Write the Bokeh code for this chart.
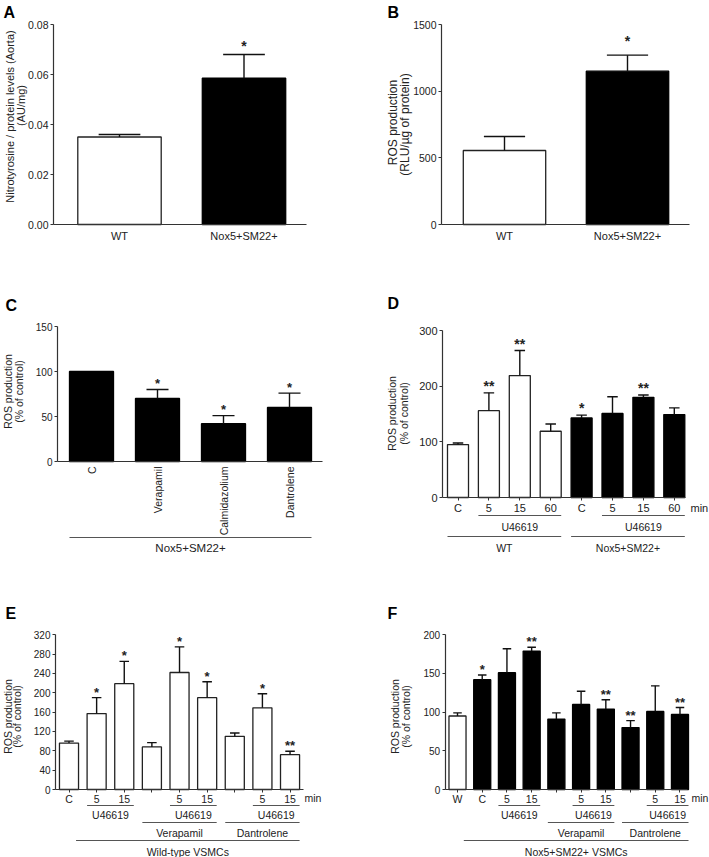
import math
from bokeh.plotting import figure
from bokeh.layouts import column, row
from bokeh.models import Range1d, FixedTicker, LinearAxis, NumeralTickFormatter
from bokeh.core.properties import value
from bokeh.embed import file_html
from bokeh.resources import INLINE

FONT = "Liberation Sans"
INK = "#222222"

# ---------------- data ----------------
a_labels = ["WT", "Nox5+SM22+"]
a_mean = [0.035, 0.0585]
a_err = [0.001, 0.0095]
a_black = [False, True]
a_sig = ["", "*"]
a_yticks = [0.0, 0.02, 0.04, 0.06, 0.08]

b_labels = ["WT", "Nox5+SM22+"]
b_mean = [555, 1150]
b_err = [105, 120]
b_black = [False, True]
b_sig = ["", "*"]
b_yticks = [0, 500, 1000, 1500]

c_labels = ["C", "Verapamil", "Calmidazolium", "Dantrolene"]
c_mean = [100, 70, 42, 60]
c_err = [0, 10, 9, 16]
c_black = [True, True, True, True]
c_sig = ["", "*", "*", "*"]
c_yticks = [0, 50, 100, 150]

d_labels = ["C", "5", "15", "60", "C", "5", "15", "60"]
d_mean = [95, 156, 219, 119, 143, 151, 180, 149]
d_err = [3, 32, 45, 13, 5, 30, 4, 12]
d_black = [False, False, False, False, True, True, True, True]
d_sig = ["", "**", "**", "", "*", "", "**", ""]
d_yticks = [0, 100, 200, 300]

e_labels = ["C", "5", "15", "", "5", "15", "", "5", "15"]
e_mean = [96, 157, 219, 88, 242, 190, 110, 169, 72]
e_err = [4, 33, 46, 9, 53, 33, 7, 29, 7]
e_black = [False, False, False, False, False, False, False, False, False]
e_sig = ["", "*", "*", "", "*", "*", "", "*", "**"]
e_yticks = [0, 40, 80, 120, 160, 200, 240, 280, 320]

f_labels = ["W", "C", "5", "15", "", "5", "15", "", "5", "15"]
f_mean = [95, 142, 151, 179, 91, 110, 104, 80, 101, 97]
f_err = [4, 6, 31, 5, 8, 17, 12, 9, 33, 9]
f_black = [False, True, True, True, True, True, True, True, True, True]
f_sig = ["", "*", "", "**", "", "", "**", "**", "", "**"]
f_yticks = [0, 50, 100, 150, 200]

# group brackets: (first bar, last bar, label, level)
c_brackets = [(0, 3, "Nox5+SM22+", 0)]
d_brackets = [(1, 3, "U46619", 0), (5, 7, "U46619", 0), (0, 3, "WT", 1), (4, 7, "Nox5+SM22+", 1)]
e_brackets = [(1, 2, "U46619", 0), (4, 5, "U46619", 0), (7, 8, "U46619", 0),
              (3, 5, "Verapamil", 1), (6, 8, "Dantrolene", 1), (0.6, 8, "Wild-type VSMCs", 2)]
f_brackets = [(2, 3, "U46619", 0), (5, 6, "U46619", 0), (8, 9, "U46619", 0),
              (4, 6, "Verapamil", 1), (7, 9, "Dantrolene", 1), (0.6, 9, "Nox5+SM22+ VSMCs", 2)]


def panel(o):
    W, H, c0, s, ax, y0, ppu = o["W"], o["H"], o["c0"], o["s"], o["ax"], o["y0"], o["ppu"]
    X = lambda fx: (fx - c0) / s
    Y = lambda fy: (y0 - fy) / ppu
    n = len(o["mean"])
    idx = list(range(n))
    p = figure(width=W, height=H, x_range=Range1d(X(0), X(W)), y_range=Range1d(Y(H), Y(0)),
               x_axis_location=None, y_axis_location=None, toolbar_location=None, tools="",
               output_backend="svg", min_border=0)
    p.outline_line_color = None
    p.background_fill_color = "white"
    p.border_fill_color = "white"
    p.grid.visible = False

    # y axis
    yax = LinearAxis(fixed_location=X(ax), bounds=(0, o["ymax"]), ticker=FixedTicker(ticks=o["yticks"]))
    if o.get("yfmt"):
        yax.formatter = NumeralTickFormatter(format=o["yfmt"])
    yax.major_tick_out = 3
    yax.major_tick_in = 0
    yax.minor_tick_out = 0
    yax.minor_tick_in = 0
    yax.major_label_standoff = 2
    yax.axis_line_color = "#333333"
    yax.major_tick_line_color = "#333333"
    yax.axis_line_width = 1.2
    yax.major_label_text_font = FONT
    yax.major_label_text_font_size = o["tick_size"]
    yax.major_label_text_color = INK
    p.add_layout(yax, "left")

    # x axis at value 0
    xax = LinearAxis(fixed_location=0, bounds=(X(ax), X(o["xend"])), ticker=FixedTicker(ticks=idx))
    xax.major_label_overrides = {i: lab for i, lab in enumerate(o["labels"])}
    xax.major_tick_out = o["xtick_out"]
    xax.major_tick_in = 0
    xax.minor_tick_out = 0
    xax.minor_tick_in = 0
    xax.major_label_standoff = o["xstand"]
    xax.axis_line_color = "#333333"
    xax.major_tick_line_color = "#333333"
    xax.axis_line_width = 1.2
    xax.major_label_text_font = FONT
    xax.major_label_text_font_size = o["xlab_size"]
    xax.major_label_text_color = INK
    if o.get("rot"):
        xax.major_label_orientation = math.pi / 2
    p.add_layout(xax, "below")

    bw = o["bw"]
    fills = ["black" if b else "white" for b in o["black"]]
    lines = ["black" if b else "#222222" for b in o["black"]]
    p.vbar(x=idx, top=o["mean"], width=bw, bottom=0, fill_color=fills, line_color=lines, line_width=1.3)

    # error bars (upper only)
    ex = [i for i in idx if o["err"][i] > 0]
    etop = [o["mean"][i] + o["err"][i] for i in ex]
    ebot = [o["mean"][i] for i in ex]
    cw = bw * 0.5
    p.segment(x0=ex, y0=ebot, x1=ex, y1=etop, line_color="#111111", line_width=1.4)
    p.segment(x0=[x - cw / 2 for x in ex], y0=etop, x1=[x + cw / 2 for x in ex], y1=etop,
              line_color="#111111", line_width=1.4)

    # significance marks
    sx = [i for i in idx if o["sig"][i]]
    sy = [o["mean"][i] + o["err"][i] + o["star_off"] / ppu for i in sx]
    p.text(x=sx, y=sy, text=[o["sig"][i] for i in sx], text_align="center", text_baseline="alphabetic",
           text_font=value(FONT), text_font_size=o["star_size"], text_font_style="bold", text_color=INK)

    # panel letter
    lx, ly = o["letter_pos"]
    p.text(x=[X(lx)], y=[Y(ly)], text=[o["letter"]], text_align="left", text_baseline="alphabetic",
           text_font=value(FONT), text_font_style="bold", text_font_size="16px", text_color="black")

    # y axis title (rotated lines)
    for (txt, fx, fy) in o["ylab"]:
        p.text(x=[X(fx)], y=[Y(fy)], text=[txt], angle=math.pi / 2, text_align="center",
               text_baseline="middle", text_font=value(FONT), text_font_size=o["ylab_size"],
               text_color=INK)

    # "min" unit
    if o.get("min_pos"):
        mx, my = o["min_pos"]
        p.text(x=[X(mx)], y=[Y(y0 + my)], text=["min"], text_align="left", text_baseline="middle",
               text_font=value(FONT), text_font_size=o["xlab_size"], text_color=INK)

    # group brackets
    hw = bw / 2
    for (i0, i1, lab, lev) in o.get("brackets", []):
        ly_line, ly_text = o["levels"][lev]
        yl = Y(y0 + ly_line)
        p.segment(x0=[i0 - hw], y0=[yl], x1=[i1 + hw], y1=[yl], line_color="#555555", line_width=1.1)
        p.text(x=[(i0 + i1) / 2], y=[Y(y0 + ly_text)], text=[lab], text_align="center",
               text_baseline="middle", text_font=value(FONT), text_font_size=o["br_size"],
               text_color=INK)
    return p


pA = panel(dict(W=354, H=280, c0=119, s=124.5, ax=53, y0=224, ppu=200 / 0.08, xend=306,
                ymax=0.08, yticks=a_yticks, yfmt="0.00", labels=a_labels, mean=a_mean, err=a_err,
                black=a_black, sig=a_sig, bw=0.67, tick_size="10.5px", xlab_size="11px",
                xtick_out=0, xstand=5, star_off=9, star_size="14px", letter="A", letter_pos=(3, 12),
                ylab=[("Nitrotyrosine / protein levels (Aorta)", 9, 116), ("(AU/mg)", 20, 105)],
                ylab_size="11px"))

pB = panel(dict(W=355, H=280, c0=150, s=123, ax=87, y0=224, ppu=200 / 1500, xend=335,
                ymax=1500, yticks=b_yticks, labels=b_labels, mean=b_mean, err=b_err,
                black=b_black, sig=b_sig, bw=0.67, tick_size="10.5px", xlab_size="11px",
                xtick_out=0, xstand=5, star_off=14, star_size="14px", letter="B", letter_pos=(33, 12),
                ylab=[("ROS production", 38, 122), ("(RLU/\u00b5g of protein)", 50, 124)],
                ylab_size="12px"))

pC = panel(dict(W=354, H=290, c0=91, s=66, ax=57, y0=181, ppu=135 / 150, xend=322,
                ymax=150, yticks=c_yticks, labels=c_labels, mean=c_mean, err=c_err,
                black=c_black, sig=c_sig, bw=0.667, tick_size="10px", xlab_size="10.5px", rot=True,
                xtick_out=0, xstand=5, star_off=6, star_size="13px", letter="C", letter_pos=(5, 25),
                ylab=[("ROS production", 7, 111), ("(% of control)", 18, 111)], ylab_size="10.5px",
                brackets=c_brackets, levels=[(76, 86)], br_size="11.5px"))

pD = panel(dict(W=355, H=290, c0=103.5, s=30.9, ax=88, y0=217, ppu=167 / 300, xend=331,
                ymax=300, yticks=d_yticks, labels=d_labels, mean=d_mean, err=d_err,
                black=d_black, sig=d_sig, bw=0.68, tick_size="11px", xlab_size="11px",
                xtick_out=3, xstand=1, star_off=7, star_size="14px", letter="D", letter_pos=(33, 23),
                ylab=[("ROS production", 37, 133), ("(% of control)", 49, 133)], ylab_size="10.5px",
                min_pos=(336, 10), brackets=d_brackets, levels=[(18, 29), (39, 50)], br_size="10.5px"))

pE = panel(dict(W=354, H=287, c0=68.5, s=27.63, ax=55, y0=219, ppu=154.7 / 320, xend=303,
                ymax=320, yticks=e_yticks, labels=e_labels, mean=e_mean, err=e_err,
                black=e_black, sig=e_sig, bw=0.69, tick_size="10px", xlab_size="10.5px",
                xtick_out=3, xstand=0, star_off=5.5, star_size="13px", letter="E", letter_pos=(5, 43),
                ylab=[("ROS production", 7, 146), ("(% of control)", 16, 146)], ylab_size="10.5px",
                min_pos=(304, 8), brackets=e_brackets, levels=[(16, 25), (33, 43), (51, 62)],
                br_size="10.5px"))

pF = panel(dict(W=355, H=287, c0=103, s=24.72, ax=90.7, y0=219, ppu=154.7 / 200, xend=333,
                ymax=200, yticks=f_yticks, labels=f_labels, mean=f_mean, err=f_err,
                black=f_black, sig=f_sig, bw=0.69, tick_size="10px", xlab_size="10.5px",
                xtick_out=3, xstand=0, star_off=5.5, star_size="13px", letter="F", letter_pos=(33, 43),
                ylab=[("ROS production", 40, 146), ("(% of control)", 51, 146)], ylab_size="10.5px",
                min_pos=(337, 8), brackets=f_brackets, levels=[(16, 25), (33, 43), (51, 62)],
                br_size="10.5px"))

layout = column(row(pA, pB), row(pC, pD), row(pE, pF))
open("out.html", "w").write(file_html(layout, INLINE))
